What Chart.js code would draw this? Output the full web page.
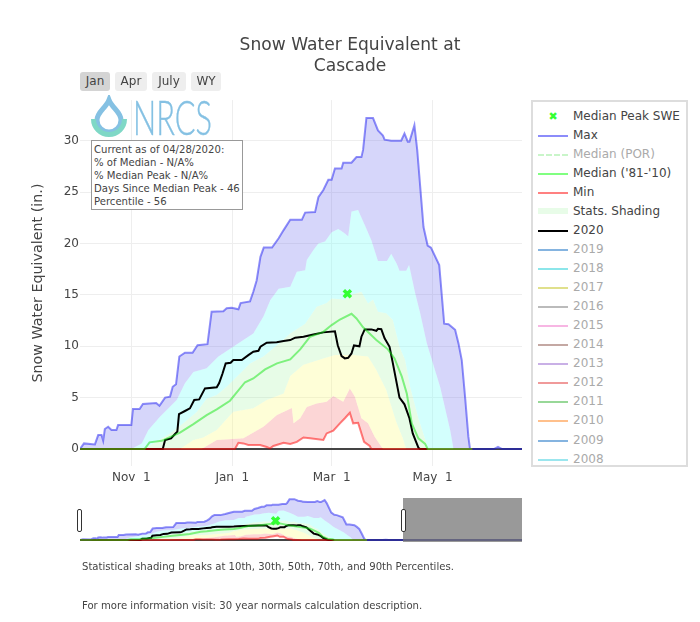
<!DOCTYPE html>
<html>
<head>
<meta charset="utf-8">
<script src="https://cdn.jsdelivr.net/npm/chart.js@4/dist/chart.umd.min.js"></script>
<style>
  body { margin: 0; background: #fff; font-family: "DejaVu Sans", sans-serif; color: #444; }
  #wrap { position: relative; width: 700px; height: 622px; overflow: hidden; }
  canvas { position: absolute; left: 0; }
  .btn { position: absolute; top: 72px; height: 19px; line-height: 19px; text-align: center; font-size: 12px; background: #eee; border-radius: 3px; }
  .note { position: absolute; left: 82px; font-size: 10.1px; white-space: nowrap; }
  #stats { position: absolute; left: 91px; top: 140px; width: 150px; height: 66px; border: 1px solid #999; background: #fff; font-size: 10.1px; line-height: 13px; padding-top: 2px; box-sizing: content-box; }
  #stats div { padding-left: 2px; white-space: nowrap; }
  #legend { position: absolute; left: 531px; top: 100px; width: 153px; height: 363px; border: 2px solid #ddd; overflow: hidden; background: #fff; }
  .row { position: absolute; left: 0; height: 19px; line-height: 19px; font-size: 12px; white-space: nowrap; }
  .sw { position: absolute; left: 5px; width: 30px; }
  .row span { position: absolute; left: 40px; }
  #mask { position: absolute; left: 403px; top: 498px; width: 119px; height: 44px; background: rgba(119,119,119,.75); }
  .handle { position: absolute; top: 509px; width: 3px; height: 21px; background: #fff; border: 1px solid #333; border-radius: 2px; }
</style>
</head>
<body>
<div id="wrap">
  <canvas id="main" width="700" height="622" style="top:0"></canvas>
  <canvas id="slider" width="700" height="46" style="top:497px"></canvas>
  <div id="mask"></div>
  <div class="handle" style="left:77px"></div>
  <div class="handle" style="left:401px"></div>
  <div id="buttons"></div>
  <svg style="position:absolute;left:85px;top:95px" width="135" height="46">
    <path d="M24 5 C27 13 36 17 36 25 A12 12 0 0 1 12 25 C12 17 21 13 24 5 Z" fill="#fff" stroke="#85c1e3" stroke-width="5"/>
    <path d="M8.5 24 A15.5 15.5 0 0 0 39.5 24" fill="none" stroke="#7fd8c6" stroke-width="5"/>
    <text x="48" y="40" font-family="Lato" font-weight="300" font-size="48" fill="#85c1e3" stroke="#85c1e3" stroke-width="0.4" textLength="79" lengthAdjust="spacingAndGlyphs">NRCS</text>
  </svg>
  <div id="stats"></div>
  <div id="legend"></div>
  <div class="note" style="top:561px">Statistical shading breaks at 10th, 30th, 50th, 70th, and 90th Percentiles.</div>
  <div class="note" style="top:600px">For more information visit: 30 year normals calculation description.</div>
</div>
<script>
// day numbers count from Oct 1, values are inches of SWE
const xTickDays = [31, 92, 152, 213]
const xTickLabels = ['Nov  1', 'Jan  1', 'Mar  1', 'May  1']
const yTicks = [0, 5, 10, 15, 20, 25, 30]
const buttonLabels = ['Jan', 'Apr', 'July', 'WY']
const statsLines = ['Current as of 04/28/2020:', '% of Median - N/A%', '% Median Peak - N/A%', 'Days Since Median Peak - 46', 'Percentile - 56']
const peakDay = [161.5]
const peakSwe = [15.1]

const maxDays = [0,2.4,9,11,13,14,15,17,19,22,23,31,32,36,38,46,48,51.4,54.4,56,58,60,63.4,68,71,77,79.5,86.6,88.6,91.6,95.7,97,102.7,104.7,106.7,109,111,116,120,123,127,134,136,142,144,147,150,152,154,158,159,164,167,170,171,173,177,180,183,184,188,194,196,198,199,202,203.7,207.5,210,212,217,220,222.6,226.6,228.6,230.6,232.6,234.6,235.6,250,252.5,255,365]
const maxSwe = [0,.55,.45,1.36,1.36,.8,1.95,2.17,1.85,1.85,2.33,2.33,3.9,3.9,4.38,4.47,4.2,5,5.1,6.06,6.3,9,9.37,9.37,10.1,10.2,13.36,13.4,13.7,13.75,13.6,14.2,14.36,15.3,16.4,18.7,19.6,19.6,20.5,21.3,22.3,22.3,23,23.05,24.5,25.2,26.2,26.2,27.3,27.3,27.85,27.85,28.4,28.4,29.1,32.2,32.2,31,30.5,30.1,30,30,30.7,29.9,29.9,31.5,29.1,21.6,19.8,19.6,17.9,12.2,12.15,11.6,10.3,8.66,5.1,1.2,0,0,.2,0,0]

const p90Days = [0,31,37.3,41.3,48.3,58.4,63.4,68.5,76.5,83.6,98.7,104.7,110.8,115,120,127,131,136,137,141,144,148,152,156,159,162,164,168,172,176,180,185.4,188,191.4,193,197,198.8,202.4,205.5,209.5,217.6,223.6,225.6,365]
const p90Swe = [0,0,.55,1.85,3.15,4.77,6.4,7.5,7.85,9,10.6,11.25,12.9,14.5,15.6,15.8,17.25,17.4,18.4,19.36,20,20.2,21.1,21.4,21.1,20.7,23.1,23.25,21.8,20.3,18.3,18.3,19,18,17.35,17.35,17.9,15.2,13.2,10.3,6,1.85,0,0]

const p70Days = [0,39,47,54.4,62.4,70.5,76.5,82.6,88.6,96.7,102.7,110.8,119,127,136,143,149,152,160,164,170,174,177,180,185,189,193,196.4,199.4,204.4,209,210,237]
const p70Swe = [0,.06,.8,1.5,2.5,3.6,4.9,5.25,6.06,7.36,8.33,9,10.1,11.25,12.2,13.85,14.2,14.65,14.56,15,15.3,14.17,14.56,13.36,13.2,12.55,9.95,8.66,6.06,3,.7,0,0]

const p30Days = [0,60.4,68.5,74.5,82.6,92.6,104.7,112.8,123,127,135,147,154,165,174,179,185,191,195,197,237]
const p30Swe = [0,0,.87,1.13,1.85,3.63,3.96,4.77,5.4,7.1,8.2,8.8,9.14,9.14,9,7.7,5.74,2.66,1.04,0,0]

const p10Days = [0,73.5,82.6,98.7,110.8,119,128,129,133,137,143,149,153,159,163,166,170,174,178,183,237]
const p10Swe = [0,0,.87,1.04,2.17,3.3,4,2.5,3,4.1,4.44,4.6,5.15,4.6,5.9,5.1,3,2.5,1.2,0,0]

const minDays = [0,93.6,95.7,98.7,101.7,108.8,112.8,114.8,116.8,123,127,131,135,139,147,149,153,157,160,163,165,168,171.6,175,176,237]
const minSwe = [0,0,.6,.55,.4,.4,.2,.07,.3,.6,.5,.7,1.13,1.04,.88,1.52,1.78,2.5,3,3.53,2.5,2.56,.7,.3,0,0]

const medianDays = [0,39,42,49.3,60.4,68.5,76.5,82.6,90.6,99.7,104.7,111.8,119,127,133,139,147,152,157,164,167,171,179,186,190,194.4,197.4,200.4,204.4,208.5,210,237]
const medianSwe = [0,0,.65,.8,1.6,2.43,3.3,3.86,4.7,6.5,6.87,7.75,8.33,8.72,9.7,10.93,11.4,12.06,12.6,13.16,12.7,11.84,10.6,9.7,8.82,7.04,5.4,2.5,1.04,.5,0,0]

const wy2020Days = [0,50,51.4,55,57.4,58.8,59.8,63.4,66.4,69,72,75.5,82.6,84,86,88,91,92.6,97.7,101.7,104.7,107.8,109,112.8,118.8,123,127,130,135,141,147,154,155.7,158,160,162,164,165.5,168.8,170,172,176,179,180,182,184,187,189,193,196,199,201,204.4,205.4,210]
const wy2020Swe = [0,0,.87,1.04,1.46,1.7,3.4,3.7,3.96,4.77,4.83,5.9,6,6.4,7.3,8.33,8.4,8.66,8.66,9.14,9.47,9.56,9.95,10.34,10.4,10.5,10.6,10.83,10.93,11.15,11.35,11.45,10.1,9.05,8.82,8.88,9.3,10.08,10,10.93,11.64,11.64,11.5,11.7,11.67,10.77,9.95,8.33,5,4.35,3,1.52,.13,0,0]

const legendNames = ['Median Peak SWE', 'Max', 'Median (POR)', "Median ('81-'10)", 'Min', 'Stats. Shading', '2020', '2019', '2018', '2017', '2016', '2015', '2014', '2013', '2012', '2011', '2010', '2009', '2008']
const legendColors = ['#33ff33', '#8c8cfa', '#c9f5c9', '#80ff80', '#ff8080', '#e8fce8', '#000', '#85b4e0', '#8ce6ea', '#e0e08c', '#bbb', '#f7b6e3', '#c4a8a3', '#c9b0e6', '#f09a9a', '#98d898', '#ffc08c', '#85b4e0', '#9be6ee']

function pts(xs, ys) {
    return xs.map((x, i) => ({ x: x, y: ys[i] }))
}

function band(label, xs, ys, target, color) {
    return {
        label: label,
        data: pts(xs, ys),
        borderWidth: 0,
        pointRadius: 0,
        fill: { target: target },
        backgroundColor: color,
        order: 10,
    }
}

function buildDatasets(lineWidth) {
    return [
        { label: 'Max', data: pts(maxDays, maxSwe), borderColor: 'rgba(20,20,240,0.48)', borderWidth: lineWidth, pointRadius: 0, fill: { target: 1 }, backgroundColor: 'rgba(120,120,240,0.3)', order: 3 },
        band('p90', p90Days, p90Swe, 2, 'rgba(140,255,250,0.38)'),
        band('p70', p70Days, p70Swe, 3, 'rgba(170,245,170,0.28)'),
        band('p30', p30Days, p30Swe, 4, 'rgba(252,252,130,0.32)'),
        band('p10', p10Days, p10Swe, 5, 'rgba(245,120,120,0.3)'),
        { label: 'Min', data: pts(minDays, minSwe), borderColor: 'rgba(255,0,0,0.5)', borderWidth: lineWidth, pointRadius: 0, fill: false, order: 2 },
        { label: 'Median', data: pts(medianDays, medianSwe), borderColor: 'rgba(20,230,20,0.5)', borderWidth: lineWidth, pointRadius: 0, fill: false, order: 1 },
        { label: '2020', data: pts(wy2020Days, wy2020Swe), borderColor: '#000', borderWidth: lineWidth, pointRadius: 0, fill: false, order: 4 },
        { label: 'Median Peak SWE', data: pts(peakDay, peakSwe), showLine: false, pointStyle: 'crossRot', pointRadius: 5, pointBorderColor: '#33ff33', pointBorderWidth: 3.5, order: 0 },
    ]
}

const mainChart = new Chart(document.getElementById('main').getContext('2d'), {
    type: 'line',
    data: { datasets: buildDatasets(2) },
    options: {
        responsive: false,
        animation: false,
        layout: { autoPadding: false, padding: { bottom: 116 } },
        elements: { line: { tension: 0 } },
        scales: {
            x: {
                type: 'linear',
                min: 0,
                max: 267,
                afterFit: (s) => { s.height = 40 },
                afterBuildTicks: (s) => { s.ticks = xTickDays.map(v => ({ value: v })) },
                grid: { color: '#eee', drawTicks: false },
                border: { display: false },
                ticks: {
                    padding: 5,
                    maxRotation: 0,
                    autoSkip: false,
                    color: '#444',
                    font: { family: 'DejaVu Sans', size: 12 },
                    callback: (v) => xTickLabels[xTickDays.indexOf(v)],
                },
            },
            y: {
                min: -1.65,
                max: 33.95,
                afterFit: (s) => { s.width = 80 },
                afterBuildTicks: (s) => { s.ticks = yTicks.map(v => ({ value: v })) },
                grid: {
                    drawTicks: false,
                    color: (c) => c.tick && c.tick.value === 0 ? '#444' : '#eee',
                    lineWidth: (c) => c.tick && c.tick.value === 0 ? 2 : 1,
                },
                border: { display: false },
                title: {
                    display: true,
                    text: 'Snow Water Equivalent (in.)',
                    color: '#444',
                    font: { family: 'DejaVu Sans', size: 14.3 },
                    padding: { top: 30, bottom: 0 },
                },
                ticks: {
                    padding: 1,
                    autoSkip: false,
                    color: '#444',
                    font: { family: 'DejaVu Sans', size: 12 },
                    callback: (v) => v,
                },
            },
            // empty axis, only keeps the room of the legend so the title centres on the page
            side: {
                position: 'right',
                min: 0,
                max: 1,
                afterFit: (s) => { s.width = 178 },
                grid: { display: false },
                border: { display: false },
                ticks: { display: false },
            },
        },
        plugins: {
            legend: { display: false },
            tooltip: { enabled: false },
            filler: { drawTime: 'beforeDatasetsDraw' },
            title: {
                display: true,
                text: ['Snow Water Equivalent at', 'Cascade'],
                color: '#444',
                font: { family: 'DejaVu Sans', size: 17.1, weight: 'normal', lineHeight: 1.23 },
                padding: { top: 35, bottom: 23 },
            },
        },
    },
});

const sliderChart = new Chart(document.getElementById('slider').getContext('2d'), {
    type: 'line',
    data: { datasets: buildDatasets(2) },
    options: {
        responsive: false,
        animation: false,
        layout: { autoPadding: false, padding: { left: 80, right: 178 } },
        scales: {
            x: { type: 'linear', display: false, min: 0, max: 365 },
            y: {
                min: -2.4,
                max: 33.9,
                afterFit: (s) => { s.width = 0 },
                afterBuildTicks: (s) => { s.ticks = [{ value: 0 }] },
                grid: { color: '#444', lineWidth: 2, drawTicks: false },
                border: { display: false },
                ticks: { display: false },
            },
        },
        plugins: {
            legend: { display: false },
            tooltip: { enabled: false },
            filler: { drawTime: 'beforeDatasetsDraw' },
        },
    },
});

// range buttons, stats box and legend are plain html around the canvas
const btnLeft = [80, 115, 152, 191]
const btnWidth = [30, 32, 34, 30]
buttonLabels.forEach((t, i) => {
    const b = document.createElement('div')
    b.className = 'btn'
    b.textContent = t
    b.style.left = btnLeft[i] + 'px'
    b.style.width = btnWidth[i] + 'px'
    if (i === 0) b.style.background = '#d4d4d4'
    document.getElementById('buttons').appendChild(b)
})

statsLines.forEach((t) => {
    const d = document.createElement('div')
    d.textContent = t
    document.getElementById('stats').appendChild(d)
})

legendNames.forEach((name, i) => {
    const row = document.createElement('div')
    row.className = 'row'
    row.style.top = (5 + i * 19.03) + 'px'
    row.style.width = '150px'
    const dimmed = name === 'Median (POR)' || i > 6
    const sw = document.createElement('div')
    sw.className = 'sw'
    if (i === 0) {
        sw.textContent = '\u2716'
        sw.style.cssText += 'color:#33ff33;font-size:11px;text-align:center;'
    } else if (name === 'Stats. Shading') {
        sw.style.cssText += 'top:6px;height:6px;background:' + legendColors[i]
    } else if (name === 'Median (POR)') {
        sw.style.cssText += 'top:9px;border-top:2px dashed ' + legendColors[i]
    } else {
        sw.style.cssText += 'top:9px;height:2px;background:' + legendColors[i]
    }
    const txt = document.createElement('span')
    txt.textContent = name
    if (dimmed) txt.style.color = '#aaa'
    row.appendChild(sw)
    row.appendChild(txt)
    document.getElementById('legend').appendChild(row)
})
</script>
</body>
</html>
